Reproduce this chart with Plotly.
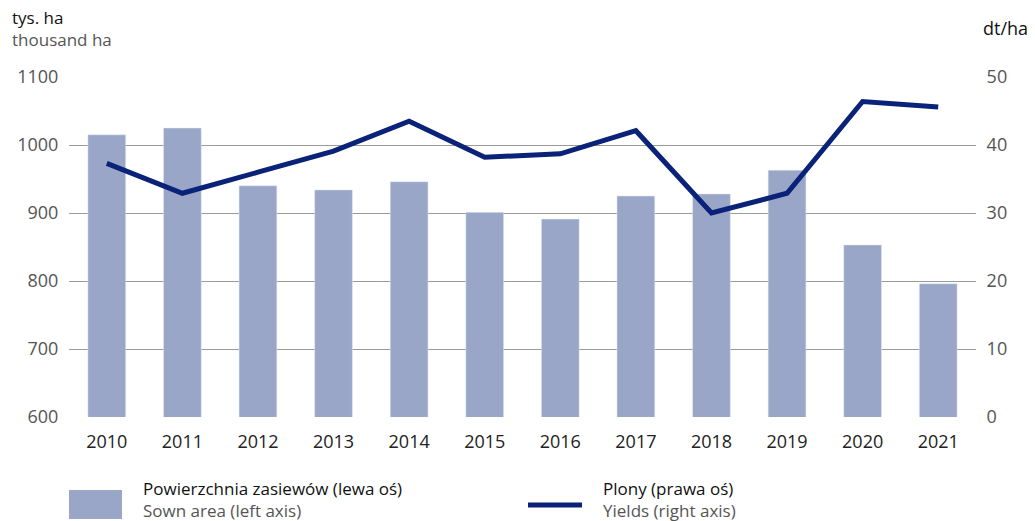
import plotly.graph_objects as go

years = ["2010", "2011", "2012", "2013", "2014", "2015", "2016", "2017", "2018", "2019", "2020", "2021"]
sown_area = [1015, 1025, 940, 934, 946, 901, 891, 925, 928, 963, 853, 796]
yields = [37.3, 32.9, 36.0, 39.1, 43.5, 38.2, 38.7, 42.1, 30.0, 32.9, 46.4, 45.6]
left_ticks = [600, 700, 800, 900, 1000, 1100]
right_ticks = [0, 10, 20, 30, 40, 50]

BAR = "#99a6c8"
LINE = "#0a2278"
GRAY = "#555555"
FONT = "Open Sans"

W, H = 1035, 521
ML, MR, MT, MB = 69, 59, 77, 104

fig = go.Figure()
fig.add_trace(go.Bar(x=years, y=sown_area, marker_color=BAR, width=0.5,
                     name="Powierzchnia zasiewów (lewa oś)", yaxis="y"))
fig.add_trace(go.Scatter(x=years, y=yields, mode="lines", line=dict(color=LINE, width=5),
                         name="Plony (prawa oś)", yaxis="y2"))

fig.update_layout(
    width=W, height=H,
    margin=dict(l=ML, r=MR, t=MT, b=MB),
    plot_bgcolor="white", paper_bgcolor="white",
    showlegend=False,
    font=dict(family=FONT, size=18, color=GRAY),
    xaxis=dict(type="category", showgrid=False, ticks="outside", ticklen=8,
               tickcolor="rgba(0,0,0,0)", showline=False,
               tickfont=dict(color="#222222", size=18)),
    yaxis=dict(range=[600, 1100], tickvals=left_ticks, showgrid=True, gridcolor="#9a9a9a",
               gridwidth=1, zeroline=False, showline=False, ticks="outside", ticklen=6,
               tickcolor="rgba(0,0,0,0)"),
    yaxis2=dict(range=[0, 50], tickvals=right_ticks, overlaying="y", side="right",
                showgrid=False, zeroline=False, showline=False, ticks="outside", ticklen=6,
                tickcolor="rgba(0,0,0,0)"),
)

def px(xp):
    return (xp - ML) / (W - ML - MR)

def py(yp):
    return (H - yp - MB) / (H - MT - MB)

def two_line(top, bottom):
    return f"<span style='color:#111111'>{top}</span><br><span style='color:{GRAY}'>{bottom}</span>"

# axis unit titles
fig.add_annotation(text=two_line("tys. ha", "thousand ha"), x=px(10), y=py(28),
                   xref="paper", yref="paper", xanchor="left", yanchor="middle",
                   align="left", showarrow=False, font=dict(family=FONT, size=17))
fig.add_annotation(text="dt/ha", x=px(1030), y=py(28), xref="paper", yref="paper",
                   xanchor="right", yanchor="middle", showarrow=False,
                   font=dict(family=FONT, size=18, color="#111111"))

# legend
fig.add_shape(type="rect", xref="paper", yref="paper", x0=px(69), x1=px(122),
              y0=py(519), y1=py(490), fillcolor=BAR, line=dict(width=0))
fig.add_shape(type="line", xref="paper", yref="paper", x0=px(528), x1=px(582),
              y0=py(505), y1=py(505), line=dict(color=LINE, width=5))
leg = [
    ("Powierzchnia zasiewów (lewa oś)", "Sown area (left axis)", 141),
    ("Plony (prawa oś)", "Yields (right axis)", 601),
]
for top, bottom, x in leg:
    fig.add_annotation(text=two_line(top, bottom), x=px(x), y=py(499), xref="paper",
                       yref="paper", xanchor="left", yanchor="middle", align="left",
                       showarrow=False, font=dict(family=FONT, size=17))

fig.write_html("out.html", config={"displayModeBar": False},
               post_script="document.body.style.margin='0';document.body.style.overflow='hidden';")
